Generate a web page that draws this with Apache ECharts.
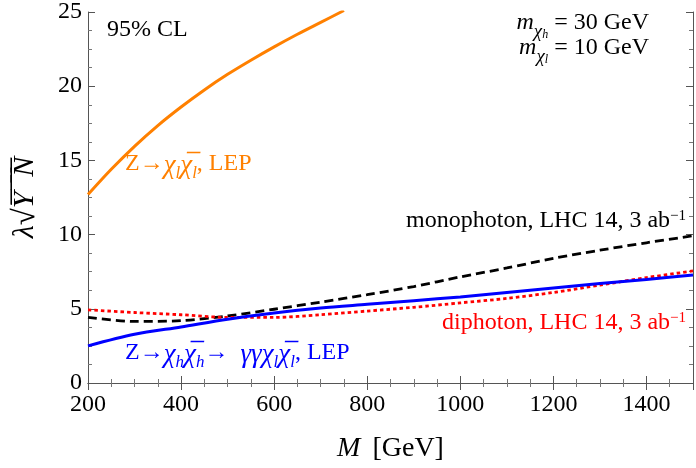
<!DOCTYPE html>
<html><head><meta charset="utf-8">
<script src="https://cdn.jsdelivr.net/npm/echarts@6/dist/echarts.min.js"></script>
<style>html,body{margin:0;padding:0;background:#fff}#c{width:696px;height:468px}</style>
</head><body><div id="c"></div>
<script>
const massLEPl = [200, 250, 300, 350, 400, 450, 500, 550, 600, 650, 700, 750];
const lepLight = [12.7, 14.4, 15.95, 17.35, 18.6, 19.75, 20.8, 21.75, 22.65, 23.5, 24.3, 25.1];
const mass = [200, 300, 400, 500, 600, 700, 800, 900, 1000, 1100, 1200, 1300, 1400, 1500];
const monophoton = [4.42, 4.15, 4.2, 4.52, 4.97, 5.45, 5.95, 6.5, 7.15, 7.75, 8.4, 8.95, 9.45, 9.92];
const diphoton = [4.93, 4.75, 4.6, 4.42, 4.42, 4.6, 4.85, 5.1, 5.4, 5.7, 6.1, 6.6, 7.1, 7.55];
const lepHeavy = [2.5, 3.28, 3.78, 4.3, 4.72, 5.05, 5.3, 5.55, 5.8, 6.1, 6.4, 6.7, 6.98, 7.27];
const xTicks = [200, 400, 600, 800, 1000, 1200, 1400];
const yTicks = [0, 5, 10, 15, 20, 25];

const F = 'Liberation Serif';
const zip = (a, b) => a.map((v, i) => [v, b[i]]);
const chart = echarts.init(document.getElementById('c'));
const axisCommon = {
  axisLine: {show: true, lineStyle: {color: '#555', width: 1}},
  axisTick: {show: true, inside: true, length: 7, lineStyle: {color: '#555'}},
  minorTick: {show: true, splitNumber: 4, length: 4, lineStyle: {color: '#777'}},
  splitLine: {show: false}
};
const xBase = {type: 'value', min: 200, max: 1500, interval: 200};
const yBase = {type: 'value', min: 0, max: 25, interval: 5};
function richFor(color) {
  return {
    i: {fontFamily: F, fontStyle: 'italic', fontSize: 24, color: color, lineHeight: 30, verticalAlign: 'top'},
    g: {fontFamily: F, fontStyle: 'italic', fontSize: 27, color: color, lineHeight: 30, verticalAlign: 'top'},
    r: {fontFamily: F, fontSize: 24, color: color, lineHeight: 30, verticalAlign: 'top'},
    si: {fontFamily: F, fontStyle: 'italic', fontSize: 19, color: color, lineHeight: 16, verticalAlign: 'bottom'},
    sub: {fontFamily: F, fontStyle: 'italic', fontSize: 17, color: color, lineHeight: 14, verticalAlign: 'bottom'},
    ss: {fontFamily: F, fontStyle: 'italic', fontSize: 12, color: color, lineHeight: 7, verticalAlign: 'bottom'},
    sup: {fontFamily: F, fontSize: 15, color: color, lineHeight: 14, verticalAlign: 'top'}
  };
}
const label = (x, y, text, color, align) => ({
  type: 'text', left: align === 'right' ? null : x, right: align === 'right' ? x : null, top: y,
  style: {text: text, rich: richFor(color), fill: color, font: '24px ' + F}
});
const lineSeries = (data, color, width, type) => ({
  type: 'line', data: data, smooth: 0.3, showSymbol: false, clip: true,
  lineStyle: {color: color, width: width, type: type}
});
chart.setOption({
  animation: false,
  grid: {left: 88, right: -3, top: 7, bottom: 84},
  xAxis: [
    Object.assign({}, xBase, axisCommon, {
      position: 'bottom',
      axisLabel: {fontFamily: F, fontSize: 24, color: '#000', margin: 10, formatter: v => xTicks.includes(v) ? String(v) : ''},
      name: '{i|M}{r|[GeV]}', nameLocation: 'middle', nameGap: 52,
      nameTextStyle: {rich: {i: {fontFamily: F, fontStyle: 'italic', fontSize: 28, color: '#000', padding: [0, 12, 0, 0]}, r: {fontFamily: F, fontSize: 28, color: '#000'}}}
    }),
    Object.assign({}, xBase, axisCommon, {position: 'top', axisLabel: {show: false}})
  ],
  yAxis: [
    Object.assign({}, yBase, axisCommon, {
      position: 'left',
      axisLabel: {fontFamily: F, fontSize: 24, color: '#000', margin: 6, formatter: v => yTicks.includes(v) ? String(v) : ''},
      name: '{i|λ}{r|√}{o|Y̅ ̅ ̅N̅}', nameLocation: 'middle', nameGap: 47, nameRotate: 90,
      nameTextStyle: {rich: {
        i: {fontFamily: F, fontStyle: 'italic', fontSize: 30, color: '#000'},
        r: {fontFamily: F, fontSize: 31, color: '#000'},
        o: {fontFamily: F, fontStyle: 'italic', fontSize: 30, color: '#000'}
      }}
    }),
    Object.assign({}, yBase, axisCommon, {position: 'right', axisLabel: {show: false}})
  ],
  series: [
    lineSeries(zip(massLEPl, lepLight), '#FF8000', 3, 'solid'),
    lineSeries(zip(mass, monophoton), '#000', 2.8, [9, 5]),
    lineSeries(zip(mass, diphoton), '#FF0000', 2.8, [3.5, 3]),
    lineSeries(zip(mass, lepHeavy), '#0000FF', 3, 'solid')
  ],
  graphic: [
    {type: 'text', left: 107, top: 18, style: {text: '95% CL', font: '24px ' + F, fill: '#000'}},
    label(47, 11, '{i|m}{si|χ}{ss|h}{r| = 30 GeV}', '#000', 'right'),
    label(47, 36, '{i|m}{si|χ}{ss|l}{r| = 10 GeV}', '#000', 'right'),
    label(125, 152, '{r|Z→}{g|χ}{sub|l}{g|χ̅}{sub|l}{r|, LEP}', '#FF8000'),
    label(10, 209, '{r|monophoton, LHC 14, 3 ab}{sup|−1}', '#000', 'right'),
    label(10, 311, '{r|diphoton, LHC 14, 3 ab}{sup|−1}', '#FF0000', 'right'),
    label(125, 341, '{r|Z→}{g|χ}{sub|h}{g|χ̅}{sub|h}{r|→  }{g|γγχ}{sub|l}{g|χ̅}{sub|l}{r|, LEP}', '#0000FF')
  ]
});
</script></body></html>
